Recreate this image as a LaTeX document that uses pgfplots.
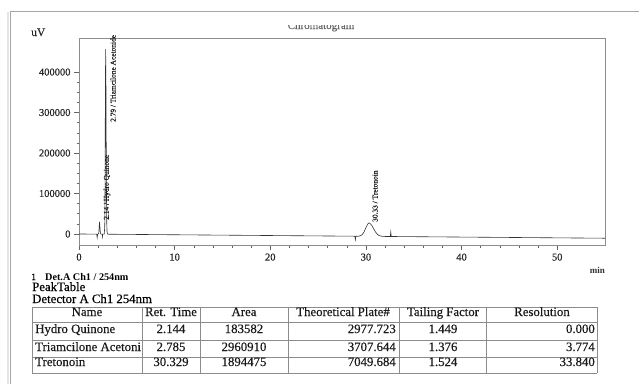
\documentclass[border=0pt]{standalone}
\usepackage{fontspec}
\setmainfont{Liberation Serif}[UprightFeatures={FakeBold=0.35}]
\usepackage{pgfplots}
\pgfplotsset{compat=1.18}

\newcommand\pklab{\fontsize{7.4}{8}\selectfont}
\newcommand\tabfont{\fontsize{12.8}{14}\selectfont}

\begin{document}
\begin{tikzpicture}[x=1pt,y=1pt]
\path[use as bounding box] (0,0) rectangle (639,384);

% page edge of the report
\draw[black!10, line width=2.5pt] (8,0) -- (8,372);
\draw[black!35, line width=0.9pt] (10,0) -- (10,373) -- (639,373);

% report title (partly cut at the top of the sheet)
\begin{scope}
  \clip (250,352) rectangle (400,358.6);
  \node[anchor=base, text=black!60, font=\fontsize{11}{12}\selectfont, inner sep=0pt] at (321,355) {Chromatogram};
\end{scope}

\begin{axis}[
  at={(79pt,139pt)}, anchor=south west,
  scale only axis, width=526pt, height=207pt,
  xmin=0, xmax=55, ymin=-27200, ymax=484000,
  xtick={0,10,20,30,40,50},
  ytick={0,100000,200000,300000,400000},
  minor x tick num=4, minor y tick num=3,
  tick align=outside, xtick pos=left, ytick pos=left,
  major tick length=5pt, minor tick length=2.5pt,
  scaled y ticks=false,
  yticklabel style={/pgf/number format/fixed, /pgf/number format/1000 sep={}},
  /pgf/number format/assume math mode=true,
  tick label style={font=\fontsize{10.5}{12}\selectfont, text=black!85},
  axis line style={black!45, line width=0.6pt},
  every tick/.style={black!60, line width=0.5pt},
  clip=false,
]
% detector A, channel 1, 254 nm
\addplot[black!80, line width=0.6pt] coordinates {
  (0,0) (1.0,-190) (1.85,-350) (1.90,-9000) (1.95,-370)
  (2.05,700) (2.084,6500) (2.114,20400) (2.144,29600) (2.174,23600)
  (2.204,11900) (2.234,3600) (2.264,450) (2.32,-440) (2.42,-460)
  (2.45,-7000) (2.48,-470) (2.64,-500)
  (2.695,19500) (2.725,113500) (2.755,322500) (2.785,456500) (2.815,381500)
  (2.845,221500) (2.875,90000) (2.905,25000) (2.935,4500) (2.985,-400)
  (3.2,-610) (10,-1900) (20,-3800)
  (28.85,-5480) (28.9,-14000) (28.95,-5500) (29.2,-5550)
  (29.4,-4625) (29.6,-1870) (29.8,4840) (30.0,15450) (30.2,25060)
  (30.33,27240) (30.4,26820) (30.6,21790) (30.8,13350) (31.0,5010)
  (31.2,-830) (31.4,-4020) (31.6,-5390) (31.8,-5880) (32.0,-6080)
  (32.55,-6180) (32.6,5000) (32.65,-6200) (55,-10450)
};
\node[rotate=90, anchor=west, font=\pklab, inner sep=0pt, text=black!90] at (axis cs:3.56,276500) {2.79 / Triamcilone Acetonide};
\node[rotate=90, anchor=west, font=\pklab, inner sep=0pt, text=black!90] at (axis cs:2.93,34600) {2.14 / Hydro Quinone};
\node[rotate=90, anchor=west, font=\pklab, inner sep=0pt, text=black!90] at (axis cs:30.96,29600) {30.33 / Tretonoin};
\end{axis}

% axis units
\node[anchor=base west, inner sep=0pt, text=black!85, font=\fontsize{11.5}{12}\selectfont] at (31,348) {uV};
\node[anchor=base east, inner sep=0pt, text=black!80, font=\bfseries\fontsize{9}{10}\selectfont] at (605,111) {min};

% captions above the peak table
\node[anchor=base west, inner sep=0pt, font=\fontsize{9.5}{10}\selectfont] at (31,104) {1};
\node[anchor=base west, inner sep=0pt, font=\bfseries\fontsize{10.2}{11}\selectfont] at (45,104) {Det.A Ch1 / 254nm};
\node[anchor=base west, inner sep=0pt, font=\tabfont] at (32,93) {PeakTable};
\node[anchor=base west, inner sep=0pt, font=\tabfont] at (32,81) {Detector A Ch1 254nm};

% peak table grid
\begin{scope}[black!45, line width=0.6pt]
  \foreach \yy in {77,62,44,27,11} \draw (32,\yy) -- (597,\yy);
  \foreach \xx in {32,142,200,288,399,486,597} \draw (\xx,11) -- (\xx,77);
\end{scope}

\begin{scope}[every node/.style={inner sep=0pt, font=\tabfont, text=black!90}]
  % header
  \node[anchor=base] at (87,68) {Name};
  \node[anchor=base] at (171,68) {Ret. Time};
  \node[anchor=base] at (244,68) {Area};
  \node[anchor=base] at (343,68) {Theoretical Plate\#};
  \node[anchor=base] at (443,68) {Tailing Factor};
  \node[anchor=base] at (542,68) {Resolution};
  % rows
  \node[anchor=base west] at (35,51) {Hydro Quinone};
  \node[anchor=base] at (171,51) {2.144};
  \node[anchor=base] at (244,51) {183582};
  \node[anchor=base east] at (396,51) {2977.723};
  \node[anchor=base] at (443,51) {1.449};
  \node[anchor=base east] at (595,51) {0.000};
  \node[anchor=base west] at (35,33) {Triamcilone Acetoni};
  \node[anchor=base] at (171,33) {2.785};
  \node[anchor=base] at (244,33) {2960910};
  \node[anchor=base east] at (396,33) {3707.644};
  \node[anchor=base] at (443,33) {1.376};
  \node[anchor=base east] at (595,33) {3.774};
  \node[anchor=base west] at (35,18) {Tretonoin};
  \node[anchor=base] at (171,18) {30.329};
  \node[anchor=base] at (244,18) {1894475};
  \node[anchor=base east] at (396,18) {7049.684};
  \node[anchor=base] at (443,18) {1.524};
  \node[anchor=base east] at (595,18) {33.840};
\end{scope}
\end{tikzpicture}
\end{document}
